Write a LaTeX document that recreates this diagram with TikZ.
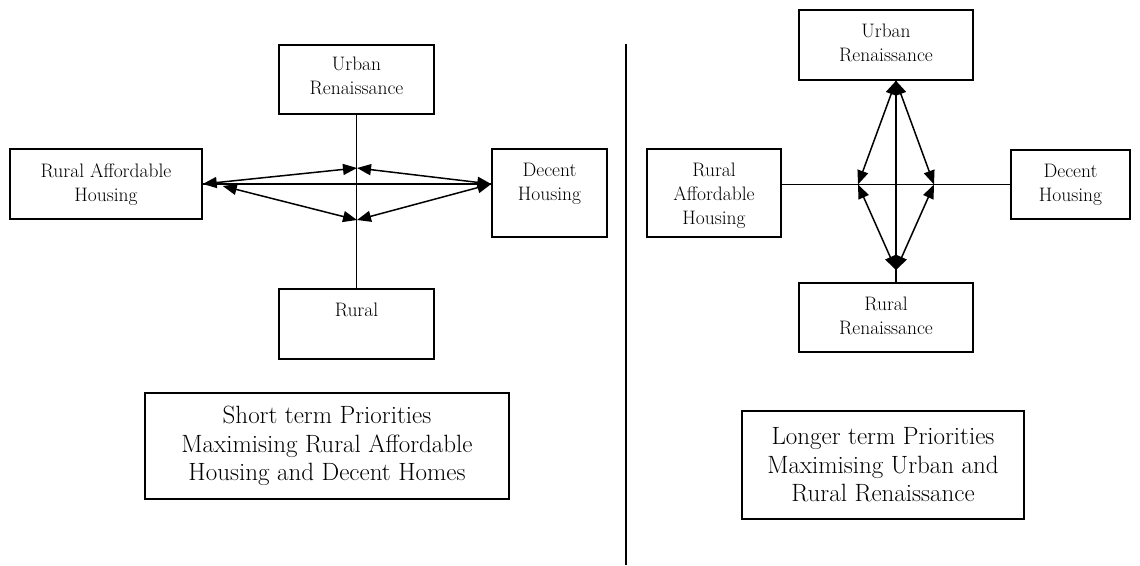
\documentclass[tikz,border=0pt]{standalone}
\usetikzlibrary{arrows.meta}
\begin{document}
\begin{tikzpicture}[x=1pt,y=-1pt,
  ln/.style={line width=1.5pt},
  ar/.style={line width=1.5pt,{Triangle[length=14pt,width=11pt]}-{Triangle[length=14pt,width=11pt]}},
  box/.style={draw,line width=1.5pt,inner sep=0pt},
  lbl/.style={inner sep=0pt,align=center,font=\fontsize{19.5}{24}\selectfont},
  big/.style={draw,line width=1.5pt,inner sep=0pt,align=center,font=\fontsize{25}{28.5}\selectfont}]
\useasboundingbox (0,0) rectangle (1140,565);
% left diagram boxes
\node[box,minimum width=155pt,minimum height=69pt] (urL) at (356.5,79.5) {};
\node[lbl,anchor=north] (urLt) at ([yshift=-13pt]urL.north) {Urban\\Renaissance};
\node[box,minimum width=192pt,minimum height=70pt] (rahL) at (106,184) {};
\node[lbl,anchor=north] (rahLt) at ([yshift=-15pt]rahL.north) {Rural Affordable\\Housing};
\node[box,minimum width=115pt,minimum height=88pt] (dhL) at (549.5,193) {};
\node[lbl,anchor=north] (dhLt) at ([yshift=-15pt]dhL.north) {Decent\\Housing};
\node[box,minimum width=155pt,minimum height=70pt] (rL) at (356.5,324) {};
\node[lbl,anchor=north] (rLt) at ([yshift=-15pt]rL.north) {Rural};
% left connectors
\coordinate (cTL) at (357,168);
\coordinate (cBL) at (357,220);
\coordinate (eRL) at (rahL.east -| dhL.west);
\draw[ln] (urL.south) -- (rL.north);
\draw[ln] (rahL.east) -- (eRL);
\draw[ar] (rahL.east) -- (cTL);
\draw[ar] ([xshift=20pt,yshift=-2pt]rahL.east) -- (cBL);
\draw[ar] (eRL) -- (cTL);
\draw[ar] (eRL) -- (cBL);
% divider
\draw[ln] (626,44) -- (626,565);
% right diagram boxes
\node[box,minimum width=174pt,minimum height=70pt] (urR) at (886,45) {};
\node[lbl,anchor=north] (urRt) at ([yshift=-15pt]urR.north) {Urban\\Renaissance};
\node[box,minimum width=134pt,minimum height=88pt] (rahR) at (714,193) {};
\node[lbl,anchor=north] (rahRt) at ([yshift=-15pt]rahR.north) {Rural\\Affordable\\Housing};
\node[box,minimum width=119pt,minimum height=69pt] (dhR) at (1070.5,184.5) {};
\node[lbl,anchor=north] (dhRt) at ([yshift=-15pt]dhR.north) {Decent\\Housing};
\node[box,minimum width=174pt,minimum height=69pt] (rrR) at (886,317.5) {};
\node[lbl,anchor=north] (rrRt) at ([yshift=-15pt]rrR.north) {Rural\\Renaissance};
% right connectors
\coordinate (vT) at ([xshift=10pt]urR.south);
\coordinate (vB) at ([xshift=10pt]rrR.north);
\coordinate (jL) at (858,184.5);
\coordinate (jR) at (934,184.5);
\coordinate (tB) at (896,270);
\draw[ln] (vT) -- (vB);
\draw[ln] (rahR.east |- dhR.west) -- (dhR.west);
\draw[ar] (vT) -- (jL);
\draw[ar] (vT) -- (jR);
\draw[ar] (tB) -- (jL);
\draw[ar] (tB) -- (jR);
% priority boxes
\node[big,minimum width=364pt,minimum height=106pt] (stb) at (327,446) {Short term Priorities\\Maximising Rural Affordable\\Housing and Decent Homes};
\node[big,minimum width=282pt,minimum height=108pt] (ltb) at (883,465) {Longer term Priorities\\Maximising Urban and\\Rural Renaissance};
\end{tikzpicture}
\end{document}
